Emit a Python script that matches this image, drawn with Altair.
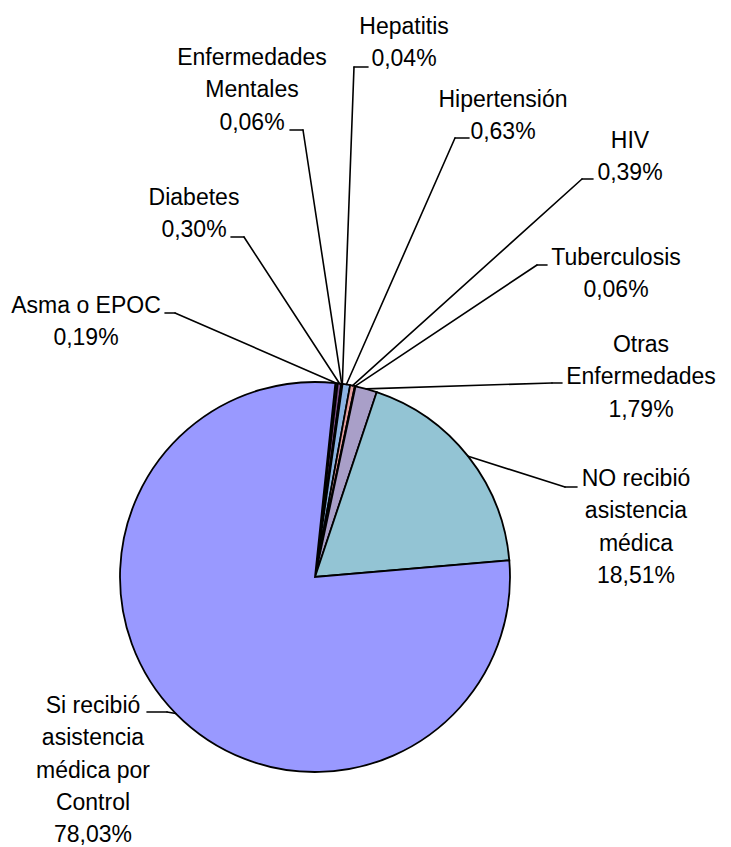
import math
import altair as alt
import pandas as pd

# ---------------- data ----------------
categories = [
    "Asma o EPOC", "Diabetes", "Enfermedades Mentales", "Hepatitis",
    "Hipertensión", "HIV", "Tuberculosis", "Otras Enfermedades",
    "NO recibió asistencia médica", "Si recibió asistencia médica por Control",
]
values = [0.19, 0.30, 0.06, 0.04, 0.63, 0.39, 0.06, 1.79, 18.51, 78.03]
value_labels = ["0,19%", "0,30%", "0,06%", "0,04%", "0,63%", "0,39%",
                "0,06%", "1,79%", "18,51%", "78,03%"]
name_lines = [
    "Asma o EPOC", "Diabetes", "Enfermedades\nMentales", "Hepatitis",
    "Hipertensión", "HIV", "Tuberculosis", "Otras\nEnfermedades",
    "NO recibió\nasistencia\nmédica", "Si recibió\nasistencia\nmédica por\nControl",
]
colors = ["#1C1C5E", "#7A4E86", "#FFFFCC", "#CCFFFF", "#8DB4E2", "#E6A0A0",
          "#333333", "#A99FC8", "#93C4D4", "#9999FF"]

# ---------------- layout (page pixels) ----------------
W, H = 714, 828
CX, CY, R = 315, 577, 195
START_DEG = 6.0
label_x = [86, 194, 252, 404, 503, 630, 616, 641, 636, 93]
label_y = [313, 205, 65, 34, 107, 148, 265, 352, 486, 713]
seg_x = [165, 231, 290, 368, 469, 593, 547, 562, 577, 147]
elbow_x = [175, 244, 303, 354, 455, 582, 537, 552, 565, 167]
elbow_y = [313, 237, 130, 67, 138, 179, 265, 383, 487, 712]

df = pd.DataFrame({
    "idx": list(range(len(categories))),
    "cat": categories,
    "value": values,
    "label": [n + "\n" + v for n, v in zip(name_lines, value_labels)],
    "lx": label_x, "ly": label_y,
    "sx": seg_x, "ex": elbow_x, "ey": elbow_y,
})

start = math.radians(START_DEG)
FONT = "Liberation Sans, Arial, sans-serif"

xs = alt.Scale(domain=[8, 8 + W], nice=False, zero=False)
ys = alt.Scale(domain=[8, 8 + H], nice=False, zero=False, reverse=True)

base = alt.Chart(df)

pie = base.mark_arc(outerRadius=R, stroke="black", strokeWidth=1.8).encode(
    theta=alt.Theta("value:Q", stack=True,
                    scale=alt.Scale(range=[start, start + 2 * math.pi])),
    color=alt.Color("cat:N", scale=alt.Scale(domain=categories, range=colors),
                    legend=None),
    order=alt.Order("idx:Q"),
    x=alt.value(CX - 8),
    y=alt.value(CY - 8),
)

geo = base.transform_joinaggregate(
    total="sum(value)"
).transform_window(
    cum="sum(value)", sort=[alt.SortField("idx")], frame=[None, 0]
).transform_calculate(
    mid=f"{start} + 2*PI*(datum.cum - datum.value/2)/datum.total"
).transform_calculate(
    px=f"{CX} + {R}*sin(datum.mid)",
    py=f"{CY} - {R}*cos(datum.mid)",
)

leader1 = geo.mark_rule(color="black", strokeWidth=1.6, strokeCap="round").encode(
    x=alt.X("px:Q", scale=xs, axis=None),
    y=alt.Y("py:Q", scale=ys, axis=None),
    x2="ex:Q",
    y2="ey:Q",
)

leader2 = base.mark_rule(color="black", strokeWidth=1.6, strokeCap="round").encode(
    x=alt.X("ex:Q", scale=xs, axis=None),
    y=alt.Y("ey:Q", scale=ys, axis=None),
    x2="sx:Q",
)

labels = base.mark_text(
    font=FONT, fontSize=23, lineBreak="\n", lineHeight=32.3,
    align="center", baseline="alphabetic", color="black",
).encode(
    x=alt.X("lx:Q", scale=xs, axis=None),
    y=alt.Y("ly:Q", scale=ys, axis=None),
    text="label:N",
)

chart = alt.layer(pie, leader1, leader2, labels).properties(
    width=W, height=H, padding=0
).configure_view(strokeWidth=0)

chart.save("out.html", embed_options={"renderer": "svg", "actions": False})
